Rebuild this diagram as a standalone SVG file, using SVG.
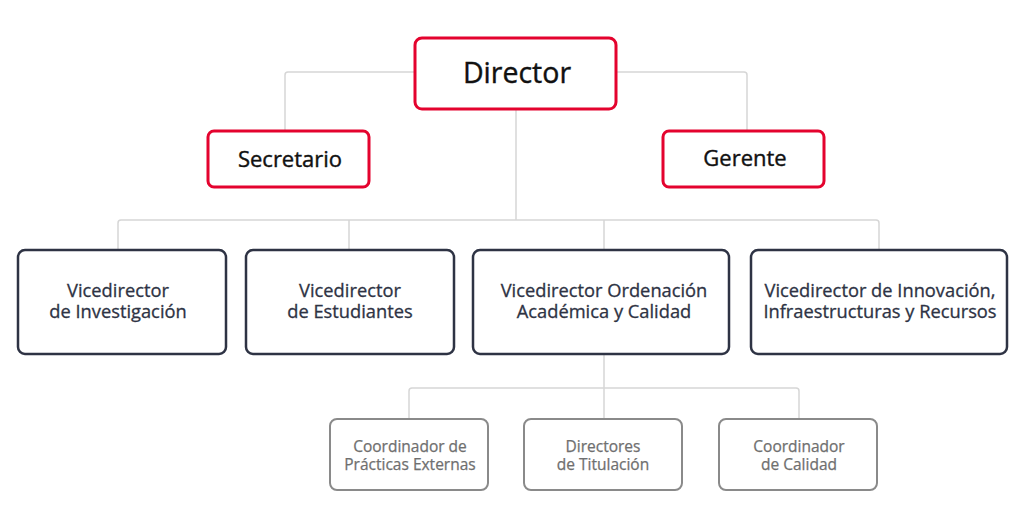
<svg xmlns="http://www.w3.org/2000/svg" width="1024" height="524" viewBox="0 0 1024 524">
<style>
text{font-family:"Open Sans","Noto Sans","Liberation Sans",sans-serif;text-anchor:middle;font-weight:400}
.top rect{fill:#fff;stroke:#e4032e;stroke-width:3}
.top text{fill:#111;stroke:#111;stroke-width:0.4}
.mid rect{fill:#fff;stroke:#2e3344;stroke-width:2.5}
.mid text{fill:#2e3344;stroke:#2e3344;stroke-width:0.3;font-size:18.3px}
.low rect{fill:#fff;stroke:#8a8a8a;stroke-width:2}
.low text{fill:#6f6f6f;stroke:#6f6f6f;stroke-width:0.25;font-size:15.5px}
.conn path{fill:none;stroke:#d6d6d6;stroke-width:1.5}
</style>
<rect width="1024" height="524" fill="#fff"/>
<g class="conn" id="connectors">
<path d="M415 72H288Q285 72 285 75V131"/>
<path d="M616 72H744Q747 72 747 75V131"/>
<path d="M516 110V220"/>
<path d="M118 250V223Q118 220 121 220H876Q879 220 879 223V250"/>
<path d="M349 220V250"/>
<path d="M604 220V250"/>
<path d="M604 354V419"/>
<path d="M409 419V391Q409 388 412 388H796Q799 388 799 391V419"/>
</g>
<g id="director" class="top"><rect x="415" y="38" width="201" height="71" rx="7"/><text x="517" y="83" font-size="28.5">Director</text></g>
<g id="secretario" class="top"><rect x="208" y="131" width="161" height="56" rx="6"/><text x="290" y="167" font-size="22">Secretario</text></g>
<g id="gerente" class="top"><rect x="663" y="131" width="161" height="56" rx="6"/><text x="745" y="166" font-size="22">Gerente</text></g>
<g id="vi" class="mid"><rect x="18" y="250" width="208" height="104" rx="7"/><text x="118" y="297">Vicedirector<tspan x="118" dy="21">de Investigación</tspan></text></g>
<g id="ve" class="mid"><rect x="246" y="250" width="208" height="104" rx="7"/><text x="350" y="297">Vicedirector<tspan x="350" dy="21">de Estudiantes</tspan></text></g>
<g id="vo" class="mid"><rect x="473" y="250" width="256" height="104" rx="7"/><text x="604" y="297">Vicedirector Ordenación<tspan x="604" dy="21">Académica y Calidad</tspan></text></g>
<g id="vinn" class="mid"><rect x="751" y="250" width="256" height="104" rx="7"/><text x="880" y="297">Vicedirector de Innovación,<tspan x="880" dy="21">Infraestructuras y Recursos</tspan></text></g>
<g id="cpe" class="low"><rect x="330" y="419" width="158" height="71" rx="7"/><text x="410" y="452">Coordinador de<tspan x="410" dy="18">Prácticas Externas</tspan></text></g>
<g id="dt" class="low"><rect x="524" y="419" width="158" height="71" rx="7"/><text x="603" y="452">Directores<tspan x="603" dy="18">de Titulación</tspan></text></g>
<g id="cc" class="low"><rect x="719" y="419" width="158" height="71" rx="7"/><text x="799" y="452">Coordinador<tspan x="799" dy="18">de Calidad</tspan></text></g>
</svg>
